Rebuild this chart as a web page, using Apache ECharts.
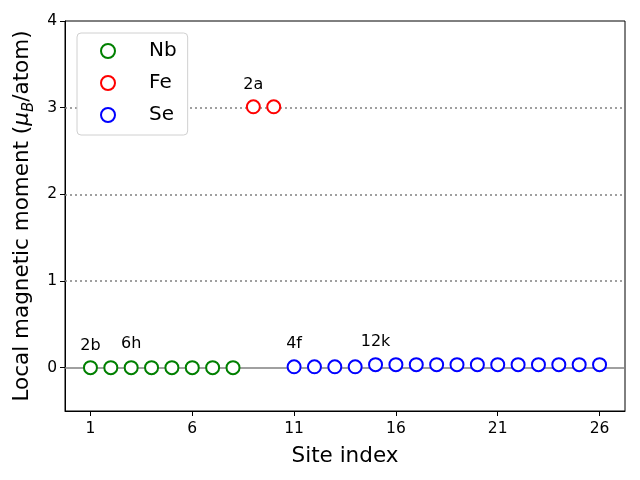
<!DOCTYPE html>
<html><head><meta charset="utf-8">
<script src="https://cdn.jsdelivr.net/npm/echarts@6/dist/echarts.min.js"></script>
<style>html,body{margin:0;padding:0;background:#fff}#c{width:640px;height:480px}</style>
</head><body><div id="c"></div>
<script>
const nbSites = [1,2,3,4,5,6,7,8];
const nbValues = [0.00,0.00,0.00,0.00,0.00,0.00,0.00,0.00];
const feSites = [9,10];
const feValues = [3.01,3.01];
const seSites = [11,12,13,14,15,16,17,18,19,20,21,22,23,24,25,26];
const seValues = [0.01,0.01,0.01,0.01,0.035,0.035,0.035,0.035,0.035,0.035,0.035,0.035,0.035,0.035,0.035,0.035];
const xTicks = [1,6,11,16,21,26];
const yTicks = [0,1,2,3,4];
const refLevels = [1,2,3];
const siteLabels = ['2b','6h','2a','4f','12k'];
const labelX = [1,3,9,11,15];
const labelY = [0.25,0.28,3.26,0.28,0.30];

const pairs = (xs, ys) => xs.map((x, i) => [x, ys[i]]);
const font = 'DejaVu Sans';
const chart = echarts.init(document.getElementById('c'), null, {renderer:'canvas'});
const sc = (name, color, data) => ({
  name, type:'scatter', data, symbol:'emptyCircle', symbolSize:13,
  itemStyle:{color:color, borderColor:color, borderWidth:1.1, opacity:1},
  z:5
});
chart.setOption({
  animation:false,
  backgroundColor:'#fff',
  grid:{left:65, top:21, right:15, bottom:69, show:true, borderColor:'#000', borderWidth:1, backgroundColor:'transparent'},
  xAxis:{type:'value', min:-0.25, max:27.25,
    name:'Site index', nameLocation:'middle', nameGap:34,
    nameTextStyle:{fontFamily:font, fontSize:21.5, color:'#000'},
    axisLine:{show:true, onZero:false, lineStyle:{color:'#000'}},
    axisTick:{show:true, length:5, inside:false, customValues:xTicks, lineStyle:{color:'#000'}},
    axisLabel:{customValues:xTicks, fontFamily:font, fontSize:15.5, color:'#000', margin:10},
    splitLine:{show:false}},
  yAxis:{type:'value', min:-0.5, max:4,
    name:'{a|Local magnetic moment (}{i|μ}{s|B}{a|/atom)}', nameLocation:'middle', nameGap:27,
    nameTextStyle:{fontFamily:font, fontSize:21.5, color:'#000',
      rich:{a:{fontFamily:font, fontSize:21.5, color:'#000'},
            i:{fontFamily:font, fontSize:21.5, fontStyle:'italic', color:'#000'},
            s:{fontFamily:font, fontSize:15, fontStyle:'italic', color:'#000', verticalAlign:'bottom', padding:[12,0,0,0]}}},
    axisLine:{show:true, onZero:false, lineStyle:{color:'#000'}},
    axisTick:{show:true, length:5, customValues:yTicks, lineStyle:{color:'#000'}},
    axisLabel:{customValues:yTicks, fontFamily:font, fontSize:15.5, color:'#000', margin:8},
    splitLine:{show:false}},
  legend:{orient:'vertical', left:77, top:33, itemGap:12, itemWidth:14, itemHeight:14,
    padding:[8,11,10,23], z:20,
    backgroundColor:'#fff', borderColor:'#d0d0d0', borderWidth:1, borderRadius:4,
    textStyle:{fontFamily:font, fontSize:20, color:'#000', padding:[0,0,0,29]},
    data:['Nb','Fe','Se']},
  series:[
    sc('Nb','#008000', pairs(nbSites, nbValues)),
    sc('Fe','#ff0000', pairs(feSites, feValues)),
    sc('Se','#0000ff', pairs(seSites, seValues)),
    {type:'line', data:[], silent:true, z:1,
      markLine:{silent:true, symbol:'none', label:{show:false}, z:1,
        data:[{yAxis:0, lineStyle:{color:'#808080', type:'solid', width:1.5}}]
          .concat(refLevels.map(v => ({yAxis:v, lineStyle:{color:'#808080', type:[2,3], width:1.5}})))}},
    {type:'scatter', silent:true, symbolSize:0, z:6,
      itemStyle:{opacity:1},
      data:labelX.map((x,i)=>({value:[x,labelY[i]], name:siteLabels[i]})),
      label:{show:true, position:'inside', formatter:p=>p.name, fontFamily:font, fontSize:16, color:'#000'}}
  ]
});
</script></body></html>
